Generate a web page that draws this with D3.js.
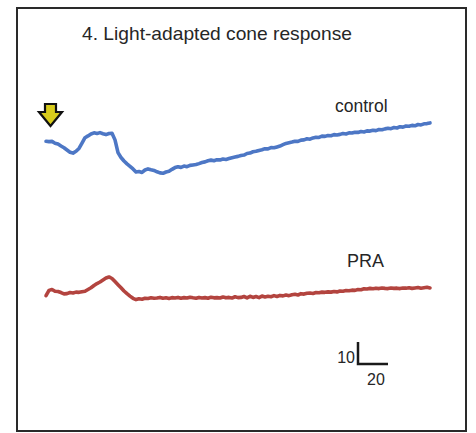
<!DOCTYPE html>
<html>
<head>
<meta charset="utf-8">
<script src="https://cdn.jsdelivr.net/npm/d3@7"></script>
<style>
  html, body { margin: 0; padding: 0; background: #fff; }
  svg { display: block; }
  text { font-family: Arial, "Liberation Sans", Helvetica, sans-serif; fill: #262626; }
</style>
</head>
<body>
<svg id="chart" width="476" height="433"></svg>
<script>
// ---- data ----
const title = "4. Light-adapted cone response";
const seriesNames = ["control", "PRA"];
const sampleInterval = 2; // ms between samples
// response amplitude (relative to trace start), one sample every 2 ms
const controlValues = [
  0.0, -0.2, -0.1, -0.9, -1.3, -2.2, -3.0, -4.0, -5.0, -5.4,
  -4.6, -3.3, -0.9, 1.6, 2.4, 3.3, 3.8, 3.5, 3.9, 3.4,
  3.0, 3.5, 3.6, 0.6, -5.2, -7.4, -9.0, -10.3, -11.4, -12.6,
  -14.0, -13.8, -14.2, -13.1, -12.6, -13.0, -13.3, -13.9, -14.4, -14.6,
  -14.0, -13.7, -12.8, -12.0, -11.6, -11.9, -11.3, -11.6, -11.0, -10.8,
  -10.6, -10.2, -9.7, -9.4, -8.9, -8.6, -8.9, -8.4, -8.5, -8.1,
  -8.3, -7.9, -7.5, -7.2, -6.9, -6.5, -6.3, -5.6, -5.4, -4.8,
  -4.6, -4.2, -3.9, -3.4, -3.5, -2.9, -3.0, -2.6, -2.2, -1.6,
  -1.0, -0.7, -0.4, 0.0, -0.1, 0.5, 0.6, 1.1, 0.9, 1.5,
  1.8, 1.7, 2.3, 2.2, 2.6, 2.5, 3.0, 2.8, 3.1, 3.5,
  3.3, 3.8, 3.7, 4.1, 4.0, 4.4, 4.2, 4.7, 4.6, 5.0,
  4.8, 5.3, 5.2, 5.6, 5.9, 5.7, 6.2, 6.0, 6.6, 6.4,
  6.9, 6.8, 7.2, 7.0, 7.6, 7.4, 7.9, 8.0, 8.3
];
const praValues = [
  -1.2, 1.2, 1.6, 0.8, 0.7, 0.2, -0.4, -0.3, 0.2, 0.0,
  0.4, 0.3, 0.6, 0.8, 1.6, 2.4, 3.4, 4.3, 5.0, 5.9,
  6.8, 7.3, 6.6, 5.2, 3.8, 2.4, 0.9, -0.3, -1.4, -2.4,
  -3.0, -2.6, -2.8, -2.4, -2.5, -2.2, -2.4, -2.3, -2.0, -2.4,
  -2.2, -2.5, -2.1, -2.3, -2.0, -2.4, -2.1, -2.3, -1.9, -2.2,
  -2.4, -2.0, -2.3, -2.1, -2.4, -1.9, -2.2, -2.1, -2.3, -1.8,
  -2.2, -2.0, -2.3, -1.7, -2.1, -2.0, -1.6, -2.2, -1.5, -2.0,
  -1.6, -2.1, -1.4, -1.8, -1.5, -1.7, -1.2, -1.6, -1.1, -1.3,
  -0.9, -1.2, -0.8, -0.6, -0.9, -0.3, -0.5, -0.1, 0.0, -0.2,
  0.2, 0.1, 0.4, 0.3, 0.5, 0.4, 0.7, 0.5, 0.9, 0.8,
  1.1, 1.0, 1.3, 1.2, 1.6, 1.5, 1.9, 1.8, 2.1, 1.9,
  2.2, 2.0, 2.3, 2.1, 2.0, 2.3, 2.1, 2.2, 2.0, 2.3,
  2.2, 2.4, 2.1, 2.3, 2.5, 2.2, 2.4, 2.6, 2.3
];
const stimulusTime = 3;          // ms, arrow
const scaleBarLabels = ["10", "20"];
const scaleBarAmplitude = 10;
const scaleBarTime = 20;

// ---- layout ----
const svg = d3.select("#chart");
const traceOffsets = { control: 69, PRA: 0 };
const colors = { control: "#4d77c5", PRA: "#b3443f" };

const x = d3.scaleLinear().domain([0, 256]).range([46, 430]);
const y = d3.scaleLinear().domain([-60, 130]).range([425, 7]);

// frame
svg.append("rect")
  .attr("x", 17).attr("y", 8).attr("width", 449).attr("height", 423)
  .attr("fill", "#fff").attr("stroke", "#2a2a2a").attr("stroke-width", 2);

// title
svg.append("text")
  .attr("x", 82).attr("y", 40)
  .attr("font-size", 18.5)
  .attr("textLength", 270).attr("lengthAdjust", "spacingAndGlyphs")
  .text(title);

// traces
const series = [
  { name: "control", values: controlValues },
  { name: "PRA", values: praValues }
];
const line = d3.line()
  .x((d, i) => x(i * sampleInterval))
  .y(d => d);

series.forEach(s => {
  const off = traceOffsets[s.name];
  const pts = s.values.map(v => y(v + off));
  svg.append("path")
    .attr("d", line(pts))
    .attr("fill", "none")
    .attr("stroke", colors[s.name])
    .attr("stroke-width", 3.6)
    .attr("stroke-linejoin", "round")
    .attr("stroke-linecap", "round");
});

// series labels
svg.append("text").attr("x", 335).attr("y", 112).attr("font-size", 17.5).text(seriesNames[0]);
svg.append("text").attr("x", 347).attr("y", 267).attr("font-size", 18).text(seriesNames[1]);

// stimulus arrow (yellow, black outline)
const ax = x(stimulusTime), ay = 104;
const arrowPath = d3.path();
arrowPath.moveTo(ax - 5.5, ay);
arrowPath.lineTo(ax + 5.5, ay);
arrowPath.lineTo(ax + 5.5, ay + 8);
arrowPath.lineTo(ax + 11.5, ay + 8);
arrowPath.lineTo(ax, ay + 22);
arrowPath.lineTo(ax - 11.5, ay + 8);
arrowPath.lineTo(ax - 5.5, ay + 8);
arrowPath.closePath();
svg.append("path")
  .attr("d", arrowPath.toString())
  .attr("fill", "#d8cc1c")
  .attr("stroke", "#111")
  .attr("stroke-width", 2.2)
  .attr("stroke-linejoin", "miter");

// scale bar
const sbX = x(208), sbY = 364;
const sbW = x(scaleBarTime) - x(0);
const sbH = y(0) - y(scaleBarAmplitude);
svg.append("path")
  .attr("d", `M${sbX},${sbY - sbH}V${sbY}H${sbX + sbW}`)
  .attr("fill", "none").attr("stroke", "#1a1a1a").attr("stroke-width", 2.5);
svg.append("text").attr("x", sbX - 3).attr("y", sbY - 1)
  .attr("text-anchor", "end").attr("font-size", 16).text(scaleBarLabels[0]);
svg.append("text").attr("x", sbX + sbW / 2 + 3).attr("y", sbY + 21)
  .attr("text-anchor", "middle").attr("font-size", 16).text(scaleBarLabels[1]);
</script>
</body>
</html>
